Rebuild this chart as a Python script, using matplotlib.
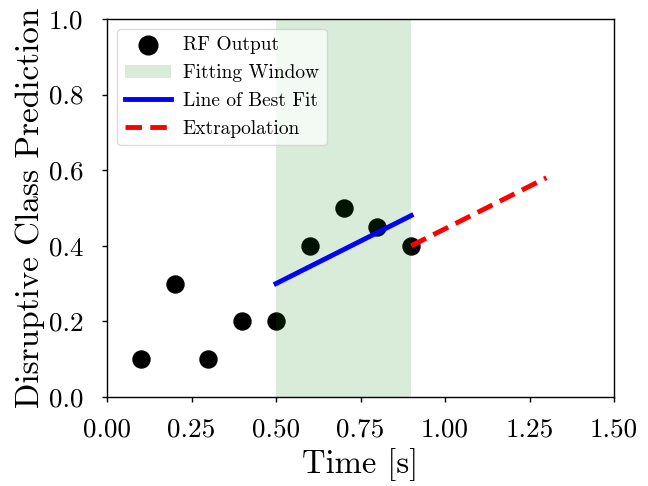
import matplotlib
matplotlib.use("Agg")
import matplotlib.pyplot as plt
import numpy as np

plt.rcParams["font.family"] = "cmr10"
plt.rcParams["mathtext.fontset"] = "cm"
plt.rcParams["axes.formatter.use_mathtext"] = True

# RF output per time step
time_s = [0.1, 0.2, 0.3, 0.4, 0.5, 0.6, 0.7, 0.8, 0.9]
prediction = [0.1, 0.3, 0.1, 0.2, 0.2, 0.4, 0.5, 0.45, 0.4]

window_start = 0.5
window_end = 0.9
extrap_end = 1.3

t = np.array(time_s)
p = np.array(prediction)
in_window = (t >= window_start - 1e-9) & (t <= window_end + 1e-9)
slope, intercept = np.polyfit(t[in_window], p[in_window], 1)

fit_x = np.array([window_start, window_end])
fit_y = slope * fit_x + intercept
ext_x = np.array([window_end, extrap_end])
ext_y = p[-1] + slope * (ext_x - window_end)

fig = plt.figure(figsize=(6.48, 4.86), dpi=100)
ax = fig.add_axes([107 / 648, 1 - 397 / 486, 507 / 648, 378 / 486])

ax.scatter(t, p, s=150, color="black", zorder=2, label="RF Output")
ax.axvspan(window_start, window_end, color="green", alpha=0.15, lw=0, zorder=2.5,
           label="Fitting Window")
ax.plot(fit_x, fit_y, color="blue", lw=3.5, zorder=3, label="Line of Best Fit")
ax.plot(ext_x, ext_y, color="red", lw=3.5, ls=(0, (3.4, 1.7)), zorder=3, label="Extrapolation")

ax.set_xlim(0, 1.5)
ax.set_ylim(0, 1.0)
xt = np.arange(0, 1.51, 0.25)
yt = np.arange(0, 1.01, 0.2)
ax.set_xticks(xt)
ax.set_yticks(yt)
ax.set_xticklabels([f"{v:.2f}" for v in xt])
ax.set_yticklabels([f"{v:.1f}" for v in yt])
ax.tick_params(labelsize=19.5, width=1.0, length=3.5)
ax.tick_params(axis="x", pad=11.5)
ax.tick_params(axis="y", pad=13.5)
for s in ax.spines.values():
    s.set_linewidth(1.0)

ax.set_xlabel("Time [s]", fontsize=23.5, labelpad=5)
ax.set_ylabel("Disruptive Class Prediction", fontsize=24, labelpad=3)

handles, labels = ax.get_legend_handles_labels()
ax.legend(handles, labels, loc="upper left", fontsize=14, framealpha=0.7,
          handlelength=2.4, handletextpad=0.6, labelspacing=0.5, markerscale=1.1)

fig.savefig("out.png", dpi=100)
